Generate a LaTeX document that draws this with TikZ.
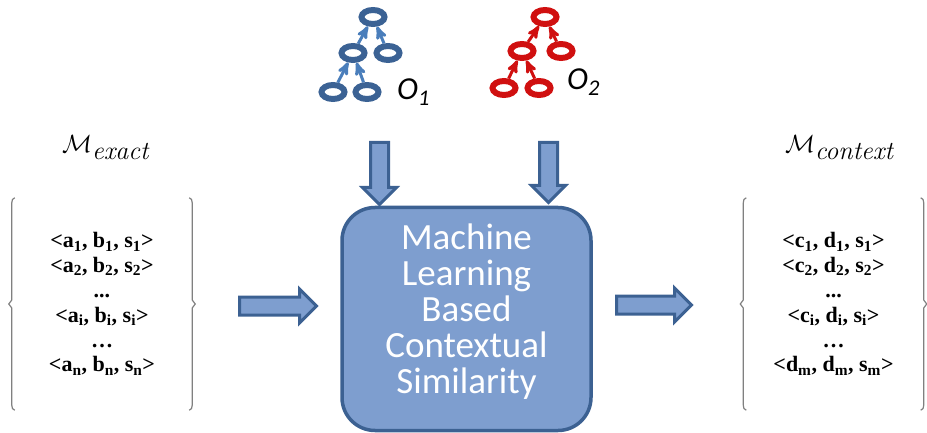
\documentclass[tikz,border=0pt]{standalone}
\usepackage{fontspec}
\newfontfamily\pairfont{Liberation Serif}
\newfontfamily\calibrifont{Carlito}
\usepackage{tikz}
\usetikzlibrary{arrows,shapes}
\usetikzlibrary{calc}

\definecolor{treeblue}{RGB}{59,98,148}
\definecolor{edgeblue}{RGB}{74,126,187}
\definecolor{treered}{RGB}{208,16,16}
\definecolor{boxfill}{RGB}{126,158,207}
\definecolor{boxline}{RGB}{60,97,146}
\definecolor{bracketgray}{RGB}{128,128,128}

\tikzset{
	onode/.style={ellipse, draw=#1, line width=6pt, minimum width=23pt, minimum height=14pt, inner sep=0pt},
	oedge/.style={draw=#1, line width=3pt, -stealth'},
	olabel/.style={font=\calibrifont\itshape\fontsize{32}{32}\selectfont, inner sep=0pt, anchor=base west},
	blockarrow/.style={single arrow, draw=boxline, fill=boxfill, line width=3pt, inner xsep=0pt, inner ysep=7.5pt,
		single arrow head extend=8pt, single arrow head indent=0pt, minimum height=#1},
	mlbox/.style={draw=boxline, fill=boxfill, line width=3.5pt, rounded corners=33pt, minimum width=249pt, minimum height=223pt},
	mltext/.style={align=center, text=white, font=\calibrifont\fontsize{37}{36}\selectfont},
	pairlist/.style={align=center, inner sep=0pt, minimum width=180pt, minimum height=212pt,
		font=\pairfont\bfseries\fontsize{22}{24.8}\selectfont},
	mlabel/.style={inner sep=0pt, anchor=base west},
	bracket/.style={draw=bracketgray, line width=1.2pt},
}

\begin{document}
\begin{tikzpicture}[x=1pt, y=-1pt]
		\useasboundingbox (0,0) rectangle (927,433);

		% ontology O1
		\node[onode=treeblue] (o1top) at (373,17) {};
		\node[onode=treeblue] (o1ml) at (353,53) {};
		\node[onode=treeblue] (o1mr) at (388,53) {};
		\node[onode=treeblue] (o1bl) at (333,92) {};
		\node[onode=treeblue] (o1br) at (367,92) {};
		\draw[oedge=edgeblue] (o1ml) -- (o1top);
		\draw[oedge=edgeblue] (o1mr) -- (o1top);
		\draw[oedge=edgeblue] (o1bl) -- (o1ml);
		\draw[oedge=edgeblue] (o1br) -- (o1ml);
		\node[olabel] (o1name) at (397,100) {O\textsubscript{1}};

		% ontology O2
		\node[onode=treered] (o2top) at (545,17) {};
		\node[onode=treered] (o2ml) at (522,51) {};
		\node[onode=treered] (o2mr) at (561,51) {};
		\node[onode=treered] (o2bl) at (504,88) {};
		\node[onode=treered] (o2br) at (539,88) {};
		\draw[oedge=treered] (o2ml) -- (o2top);
		\draw[oedge=treered] (o2mr) -- (o2top);
		\draw[oedge=treered] (o2bl) -- (o2ml);
		\draw[oedge=treered] (o2br) -- (o2ml);
		\node[olabel] (o2name) at (567,90) {O\textsubscript{2}};

		% matcher
		\node[mlbox] (mls) at (466.5,319) {};
		\node[mltext] (mlname) at ([yshift=7pt]mls.center) {Machine\\Learning\\Based\\Contextual\\Similarity};
		\node[blockarrow=62pt, rotate=-90] (in1) at (379.5,169) {};
		\node[blockarrow=60pt, rotate=-90] (in2) at (548.5,168) {};
		\node[blockarrow=77pt] (inexact) at (273.5,306) {};
		\node[blockarrow=75pt] (outcontext) at (649.5,305) {};

		% input alignment
		\node[mlabel] (exactname) at (62,153) {{\fontsize{30}{30}\selectfont$\mathcal{M}$}{\fontsize{26}{26}\selectfont\raisebox{-7pt}{\itshape exact}}};
		\node[pairlist] (exactlist) at (102,304) {<a\textsubscript{1}, b\textsubscript{1}, s\textsubscript{1}>\\
			<a\textsubscript{2}, b\textsubscript{2}, s\textsubscript{2}>\\ ...\\
			<a\textsubscript{i}, b\textsubscript{i}, s\textsubscript{i}>\\ \ldots\\
			<a\textsubscript{n}, b\textsubscript{n}, s\textsubscript{n}>};
		\draw[bracket] ([xshift=3pt]exactlist.north west) to[out=180,in=90] ++(-3,5) -- ($(exactlist.west)+(0,-4)$)
			-- ++(-3,4) -- ++(3,4) -- ($(exactlist.south west)+(0,-5)$) to[out=270,in=180] ++(3,5);
		\draw[bracket] ([xshift=-3pt]exactlist.north east) to[out=0,in=90] ++(3,5) -- ($(exactlist.east)+(0,-4)$)
			-- ++(3,4) -- ++(-3,4) -- ($(exactlist.south east)+(0,-5)$) to[out=270,in=0] ++(-3,5);

		% output alignment
		\node[mlabel] (contextname) at (785,153) {{\fontsize{30}{30}\selectfont$\mathcal{M}$}{\fontsize{26}{26}\selectfont\raisebox{-7pt}{\itshape context}}};
		\node[pairlist] (contextlist) at (833.5,304) {<c\textsubscript{1}, d\textsubscript{1}, s\textsubscript{1}>\\
			<c\textsubscript{2}, d\textsubscript{2}, s\textsubscript{2}>\\ ...\\
			<c\textsubscript{i}, d\textsubscript{i}, s\textsubscript{i}>\\ \ldots\\
			<d\textsubscript{m}, d\textsubscript{m}, s\textsubscript{m}>};
		\draw[bracket] ([xshift=3pt]contextlist.north west) to[out=180,in=90] ++(-3,5) -- ($(contextlist.west)+(0,-4)$)
			-- ++(-3,4) -- ++(3,4) -- ($(contextlist.south west)+(0,-5)$) to[out=270,in=180] ++(3,5);
		\draw[bracket] ([xshift=-3pt]contextlist.north east) to[out=0,in=90] ++(3,5) -- ($(contextlist.east)+(0,-4)$)
			-- ++(3,4) -- ++(-3,4) -- ($(contextlist.south east)+(0,-5)$) to[out=270,in=0] ++(-3,5);
\end{tikzpicture}
\end{document}
